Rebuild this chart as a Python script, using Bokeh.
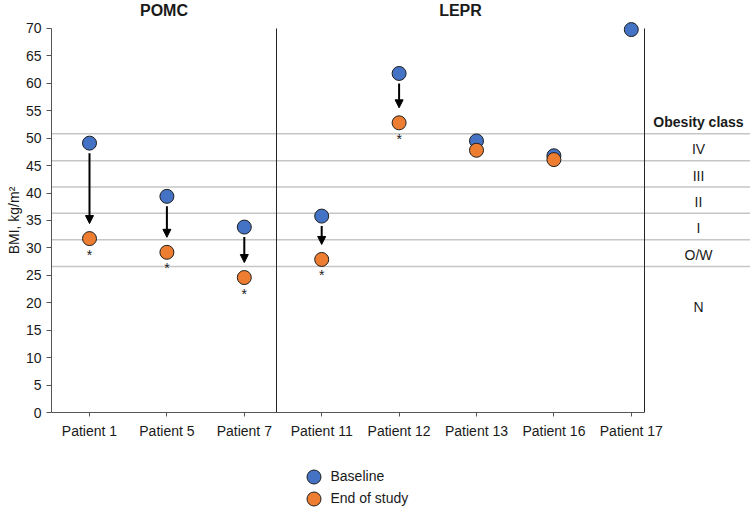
from bokeh.plotting import figure
from bokeh.models import (Range1d, FixedTicker, ColumnDataSource, Arrow, NormalHead,
                          Legend, LegendItem)
from bokeh.core.properties import value
from bokeh.embed import file_html
from bokeh.resources import INLINE

# ---------------- data ----------------
patients = ["Patient 1", "Patient 5", "Patient 7", "Patient 11",
            "Patient 12", "Patient 13", "Patient 16", "Patient 17"]
group_names = ["POMC", "LEPR"]
baseline_bmi = [49.1, 39.4, 33.8, 35.8, 61.8, 49.5, 46.8, 69.8]
end_bmi = [31.7, 29.2, 24.6, 27.9, 52.8, 47.8, 46.1, None]
significant = [True, True, True, True, True, False, False, False]
class_boundaries = [50.8, 45.9, 41.1, 36.3, 31.5, 26.6]
class_names = ["IV", "III", "II", "I", "O/W", "N"]
class_label_bmi = [48.0, 43.2, 38.4, 33.6, 28.8, 19.2]
y_ticks = list(range(0, 75, 5))

# ---------------- geometry ----------------
W, H = 750, 509
X0, DX = 89, 77.4      # canvas px of first category, px per category
Y0, DY = 412, 5.486    # canvas px of BMI 0, px per BMI unit


def xv(px):
    return (px - X0) / DX


def yv(py):
    return (Y0 - py) / DY


FONT = "Liberation Sans"
BLUE = "#4472C4"
ORANGE = "#ED7D31"
TXT = "#1a1a1a"

p = figure(width=W, height=H, x_range=Range1d(xv(0), xv(W)), y_range=Range1d(yv(H), yv(0)),
           output_backend="svg", toolbar_location=None, min_border=0,
           outline_line_color=None, title=None)
p.xgrid.visible = False
p.ygrid.visible = False

idx = list(range(len(patients)))
x_axis_left = xv(51)
x_axis_right = xv(644)
x_sep = xv(276)
y_top = y_ticks[-1]

# obesity-class boundary lines
nb = len(class_boundaries)
p.segment(x0=[x_axis_left] * nb, x1=[xv(W)] * nb, y0=class_boundaries, y1=class_boundaries,
          line_color="#c6c6c6", line_width=1.5)
# vertical separators
p.segment(x0=[x_sep, x_axis_right], x1=[x_sep, x_axis_right], y0=[0, 0], y1=[y_top, y_top],
          line_color="#262626", line_width=1)

# axes
AX = "#555555"
xa = p.xaxis[0]
xa.fixed_location = 0
xa.bounds = (x_axis_left, x_axis_right)
xa.ticker = FixedTicker(ticks=idx)
xa.major_label_overrides = {i: name for i, name in enumerate(patients)}
xa.major_tick_out = 4
xa.major_tick_in = 0
xa.minor_tick_out = 0
xa.minor_tick_in = 0
xa.major_label_standoff = 6
xa.axis_line_color = AX
xa.major_tick_line_color = AX
xa.major_label_text_font = FONT
xa.major_label_text_font_size = "14px"
xa.major_label_text_color = TXT

ya = p.yaxis[0]
ya.fixed_location = x_axis_left
ya.bounds = (0, y_top)
ya.ticker = FixedTicker(ticks=y_ticks)
ya.major_tick_out = 5
ya.major_tick_in = 0
ya.minor_tick_out = 0
ya.minor_tick_in = 0
ya.major_label_standoff = 5
ya.axis_line_color = AX
ya.major_tick_line_color = AX
ya.major_label_text_font = FONT
ya.major_label_text_font_size = "14px"
ya.major_label_text_color = TXT
ya.axis_label = "BMI, kg/m²"
ya.axis_label_text_font = FONT
ya.axis_label_text_font_size = "14px"
ya.axis_label_text_font_style = "normal"
ya.axis_label_text_color = TXT
ya.axis_label_standoff = 1

# arrows
arr = [i for i in idx if significant[i] and end_bmi[i] is not None]
arrow_src = ColumnDataSource(dict(
    x=arr,
    ys=[baseline_bmi[i] - 10 / DY for i in arr],
    ye=[end_bmi[i] + 15 / DY for i in arr],
))
p.add_layout(Arrow(end=NormalHead(size=8, fill_color="black", line_color="black", line_width=1),
                   x_start="x", y_start="ys", x_end="x", y_end="ye", source=arrow_src,
                   line_width=2, line_color="black"))

# points
r_base = p.scatter(x=idx, y=baseline_bmi, size=14, fill_color=BLUE,
                   line_color="#1f1f1f", line_width=1)
end_idx = [i for i in idx if end_bmi[i] is not None]
r_end = p.scatter(x=end_idx, y=[end_bmi[i] for i in end_idx], size=14, fill_color=ORANGE,
                  line_color="#1f1f1f", line_width=1)

# asterisks
p.text(x=arr, y=[end_bmi[i] - 16 / DY for i in arr], text=["*"] * len(arr),
       text_align="center", text_baseline="middle", text_font=value(FONT),
       text_font_size="14px", text_color=TXT)

# group titles
bounds = [x_axis_left, x_sep, x_axis_right]
p.text(x=[(bounds[k] + bounds[k + 1]) / 2 for k in range(2)], y=[yv(10)] * 2, text=group_names,
       text_align="center", text_baseline="middle", text_font=value(FONT),
       text_font_size="16px", text_font_style="bold", text_color=TXT)

# obesity class labels
x_cls = xv(698)
p.text(x=[x_cls], y=[yv(121)], text=["Obesity class"], text_align="center",
       text_baseline="middle", text_font=value(FONT), text_font_size="14px",
       text_font_style="bold", text_color=TXT)
p.text(x=[x_cls] * len(class_names), y=class_label_bmi, text=class_names, text_align="center",
       text_baseline="middle", text_font=value(FONT), text_font_size="14px", text_color=TXT)

# legend (one per item to keep compact spacing)
def make_legend(label, rend, loc):
    return Legend(items=[LegendItem(label=label, renderers=[rend])], location=loc,
                  glyph_width=35, glyph_height=35, label_standoff=0, padding=0, margin=0,
                  spacing=0, border_line_color=None, background_fill_alpha=0,
                  label_text_font=FONT, label_text_font_size="14px", label_text_color=TXT)


p.add_layout(make_legend("Baseline", r_base, (295.5, 15.5)))
p.add_layout(make_legend("End of study", r_end, (295.5, -6.5)))

open("out.html", "w").write(file_html(p, INLINE))
